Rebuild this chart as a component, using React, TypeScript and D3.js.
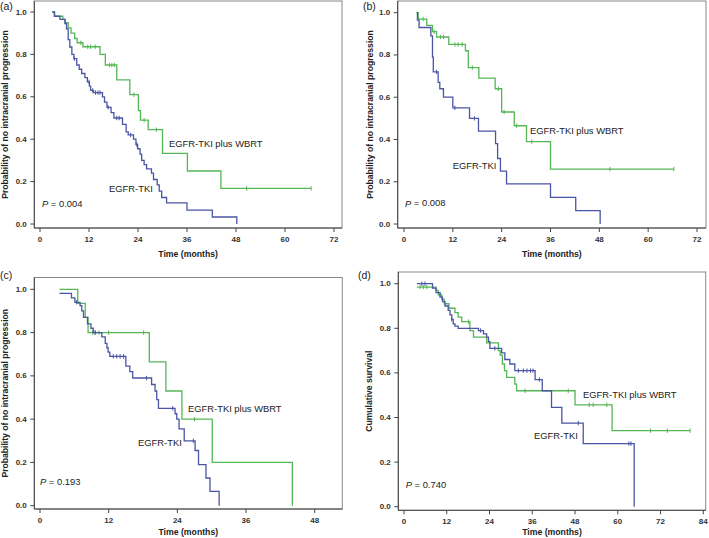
import React from 'react';
import * as d3 from 'd3';

const GREEN = '#55b655';
const BLUE = '#4a55a4';

// ---------- Panel (a) ----------
const aTkiTime = [3.0, 3.5, 4.9, 6.1, 6.5, 6.9, 7.3, 7.8, 8.3, 9.0, 9.6, 10.2, 11.0, 11.6, 12.1, 12.4, 13.1, 15.3, 15.8, 16.4, 17.4, 18.1, 20.2, 21.1, 21.6, 22.9, 23.5, 23.9, 24.5, 24.9, 25.5, 26.1, 27.3, 27.8, 28.7, 29.2, 29.8, 31.0, 36.0, 42.2, 48.2];
const aTkiSurv = [1.0, 0.98, 0.965, 0.945, 0.92, 0.87, 0.835, 0.80, 0.78, 0.75, 0.73, 0.71, 0.69, 0.67, 0.65, 0.63, 0.62, 0.60, 0.575, 0.55, 0.525, 0.50, 0.47, 0.435, 0.42, 0.40, 0.375, 0.355, 0.33, 0.30, 0.28, 0.26, 0.24, 0.21, 0.185, 0.155, 0.125, 0.10, 0.065, 0.033, 0.0];
const aTkiCens = [8.4, 12.0, 12.9, 13.6, 14.2, 14.7, 16.7, 18.8, 19.4, 22.2, 23.7];
const aWbrtTime = [3.0, 3.6, 5.6, 6.2, 6.9, 7.6, 8.5, 9.1, 10.5, 14.7, 16.0, 18.8, 22.0, 24.1, 24.6, 26.5, 30.0, 36.1, 44.3, 66.4];
const aWbrtSurv = [1.0, 0.98, 0.965, 0.95, 0.925, 0.90, 0.875, 0.855, 0.836, 0.80, 0.75, 0.68, 0.61, 0.535, 0.49, 0.445, 0.333, 0.25, 0.168, 0.168];
const aWbrtCens = [10.0, 11.7, 12.4, 13.5, 17.0, 17.6, 18.2, 23.0, 25.5, 28.5, 50.6, 66.4];

// ---------- Panel (b) ----------
const bTkiTime = [3.1, 3.3, 3.7, 6.6, 7.0, 7.2, 8.4, 8.8, 9.7, 12.0, 16.1, 18.3, 22.5, 23.0, 23.7, 25.2, 36.0, 42.2, 48.2];
const bTkiSurv = [1.0, 0.965, 0.93, 0.89, 0.79, 0.72, 0.67, 0.64, 0.60, 0.55, 0.50, 0.44, 0.38, 0.31, 0.25, 0.19, 0.126, 0.063, 0.0];
const bTkiCens = [8.0, 12.5, 17.3];
const bWbrtTime = [3.1, 3.5, 5.6, 7.0, 8.0, 11.0, 15.1, 15.8, 18.4, 22.4, 24.0, 27.1, 30.1, 36.0, 66.3];
const bWbrtSurv = [1.0, 0.97, 0.94, 0.91, 0.885, 0.85, 0.82, 0.74, 0.69, 0.64, 0.53, 0.465, 0.39, 0.26, 0.26];
const bWbrtCens = [4.7, 7.4, 9.0, 9.7, 12.5, 13.3, 14.3, 16.8, 23.2, 24.6, 27.7, 31.4, 50.6, 66.3];

// ---------- Panel (c) ----------
const cTkiTime = [3.4, 5.5, 6.1, 7.0, 7.3, 7.6, 8.3, 8.9, 9.3, 10.8, 11.4, 11.7, 11.9, 12.2, 15.0, 15.7, 16.2, 19.5, 20.1, 20.4, 20.7, 23.6, 23.9, 24.3, 25.2, 27.1, 27.7, 29.0, 29.7, 31.3];
const cTkiSurv = [0.981, 0.96, 0.94, 0.925, 0.90, 0.87, 0.84, 0.82, 0.80, 0.78, 0.75, 0.73, 0.71, 0.69, 0.645, 0.62, 0.59, 0.56, 0.53, 0.49, 0.45, 0.425, 0.40, 0.355, 0.30, 0.255, 0.19, 0.128, 0.066, 0.0];
const cTkiCens = [6.4, 9.6, 12.8, 13.4, 14.0, 14.6, 18.6, 23.2, 26.8];
const cWbrtTime = [3.4, 6.6, 7.9, 8.4, 19.1, 22.0, 24.8, 30.1, 44.1];
const cWbrtSurv = [1.0, 0.935, 0.87, 0.80, 0.665, 0.53, 0.40, 0.20, 0.0];
const cWbrtCens = [9.2, 9.7, 10.3, 12.0, 18.1, 27.0];

// ---------- Panel (d) ----------
const dTkiTime = [3.6, 8.0, 9.0, 10.1, 10.8, 11.5, 12.4, 12.9, 13.4, 13.8, 14.3, 15.2, 20.9, 22.3, 23.2, 23.7, 24.1, 27.4, 28.3, 29.7, 31.1, 36.8, 38.8, 41.4, 44.3, 50.3, 64.6];
const dTkiSurv = [1.0, 0.98, 0.96, 0.94, 0.92, 0.90, 0.88, 0.86, 0.84, 0.82, 0.81, 0.80, 0.79, 0.775, 0.76, 0.74, 0.71, 0.69, 0.66, 0.64, 0.61, 0.57, 0.52, 0.445, 0.375, 0.283, 0.0];
const dTkiCens = [5.0, 5.9, 13.4, 21.5, 25.5, 32.1, 33.5, 34.5, 35.5, 36.2, 38.0, 48.9, 63.1, 63.7];
const dWbrtTime = [3.6, 9.0, 9.6, 10.6, 11.3, 12.6, 14.3, 15.2, 16.2, 18.5, 19.5, 23.2, 26.5, 27.0, 27.6, 28.2, 28.8, 31.1, 31.6, 48.0, 58.4, 80.3];
const dWbrtSurv = [0.985, 0.97, 0.95, 0.93, 0.91, 0.89, 0.87, 0.85, 0.83, 0.79, 0.76, 0.735, 0.70, 0.68, 0.64, 0.61, 0.58, 0.55, 0.52, 0.457, 0.341, 0.341];
const dWbrtCens = [4.5, 5.4, 6.4, 10.2, 18.1, 34.0, 46.1, 52.0, 53.1, 56.9, 69.2, 73.9, 80.3];

const yTicks = [0, 0.2, 0.4, 0.6, 0.8, 1.0];
const xTicks72 = [0, 12, 24, 36, 48, 60, 72];
const xTicks48 = [0, 12, 24, 36, 48];
const xTicks84 = [0, 12, 24, 36, 48, 60, 72, 84];

const labelPlus = 'EGFR-TKI plus WBRT';
const labelTki = 'EGFR-TKI';
const yLabelProg = 'Probability of no intracranial progression';
const yLabelSurv = 'Cumulative survival';
const xLabel = 'Time (months)';

type Curve = { time: number[]; surv: number[]; cens: number[]; color: string };

function stepValue(time: number[], surv: number[], t: number) {
  let v = surv[0];
  for (let i = 0; i < time.length; i++) if (time[i] <= t) v = surv[i];
  return v;
}

type PanelProps = {
  tag: string;
  tagX: number;
  tagY: number;
  frame: { l: number; r: number; t: number; b: number };
  xMax: number;
  xRange: [number, number];
  yRange: [number, number];
  xTicks: number[];
  yLabel: string;
  yLabelX: number;
  xLabelOffset: number;
  curves: Curve[];
  plusPos: [number, number];
  tkiPos: [number, number];
  pPos: [number, number];
  pValue: string;
};

const SANS = 'Liberation Sans, Arial, sans-serif';
const NARROW = 'Liberation Sans Narrow, Arial Narrow, Liberation Sans, Arial, sans-serif';

function Panel(p: PanelProps) {
  const x = d3.scaleLinear().domain([0, p.xMax]).range(p.xRange);
  const y = d3.scaleLinear().domain([0, 1]).range(p.yRange);
  const line = d3
    .line<[number, number]>()
    .x((d) => x(d[0]))
    .y((d) => y(d[1]))
    .curve(d3.curveStepAfter);
  const { l, r, t, b } = p.frame;
  const cx = (l + r) / 2;
  const cy = (t + b) / 2;
  return (
    <g>
      <text x={p.tagX} y={p.tagY} fontFamily={SANS} fontSize={10.5} dominantBaseline="central" fill="#222">
        {p.tag}
      </text>
      <rect x={l} y={t} width={r - l} height={b - t} fill="#fff" stroke="#888" strokeWidth={1} />
      <line x1={l} x2={l} y1={t} y2={b} stroke="#444" strokeWidth={1} />
      <line x1={l} x2={r} y1={b} y2={b} stroke="#444" strokeWidth={1} />
      {yTicks.map((v) => (
        <g key={'y' + v}>
          <line x1={l - 4} x2={l} y1={y(v)} y2={y(v)} stroke="#444" />
          <text
            x={l - 7.5}
            y={y(v)}
            textAnchor="end"
            dominantBaseline="central"
            fontFamily={NARROW}
            fontWeight="bold"
            fontSize={8}
            fill="#333"
          >
            {d3.format('.1f')(v)}
          </text>
        </g>
      ))}
      {p.xTicks.map((v) => (
        <g key={'x' + v}>
          <line x1={x(v)} x2={x(v)} y1={b} y2={b + 4} stroke="#444" />
          <text
            x={x(v)}
            y={b + 11.5}
            textAnchor="middle"
            dominantBaseline="central"
            fontFamily={NARROW}
            fontWeight="bold"
            fontSize={8}
            fill="#333"
          >
            {v}
          </text>
        </g>
      ))}
      <text
        x={cx}
        y={b + p.xLabelOffset}
        textAnchor="middle"
        dominantBaseline="central"
        fontFamily={SANS}
        fontWeight="bold"
        fontSize={8.7}
        fill="#222"
      >
        {xLabel}
      </text>
      <text
        transform={`translate(${p.yLabelX},${cy}) rotate(-90)`}
        textAnchor="middle"
        dominantBaseline="central"
        fontFamily={SANS}
        fontWeight="bold"
        fontSize={8.6}
        fill="#222"
      >
        {p.yLabel}
      </text>
      {p.curves.map((c, i) => {
        const pts: [number, number][] = c.time.map((tt, j) => [tt, c.surv[j]]);
        return (
          <g key={'c' + i}>
            <path d={line(pts) || ''} fill="none" stroke={c.color} strokeWidth={1.3} />
            {c.cens.map((ct, j) => {
              const v = stepValue(c.time, c.surv, ct);
              return (
                <line
                  key={j}
                  x1={x(ct)}
                  x2={x(ct)}
                  y1={y(v) - 2.2}
                  y2={y(v) + 2.2}
                  stroke={c.color}
                  strokeWidth={1}
                />
              );
            })}
          </g>
        );
      })}
      <text x={p.plusPos[0]} y={p.plusPos[1]} dominantBaseline="central" fontFamily={SANS} fontSize={9.4} fill="#222">
        {labelPlus}
      </text>
      <text x={p.tkiPos[0]} y={p.tkiPos[1]} dominantBaseline="central" fontFamily={SANS} fontSize={9.4} fill="#222">
        {labelTki}
      </text>
      <text x={p.pPos[0]} y={p.pPos[1]} dominantBaseline="central" fontFamily={SANS} fontSize={9.4} fill="#222">
        <tspan fontStyle="italic">P</tspan>
        {' = ' + p.pValue}
      </text>
    </g>
  );
}

export default function App() {
  return (
    <svg
      width={709}
      height={538}
      style={{ position: 'absolute', left: 0, top: 0, background: '#fff' }}
    >
      <rect x={0} y={0} width={709} height={538} fill="#fff" />
      <Panel
        tag="(a)"
        tagX={0}
        tagY={5.5}
        frame={{ l: 34.3, r: 342, t: 1, b: 228 }}
        xMax={72}
        xRange={[40, 334]}
        yRange={[224, 12]}
        xTicks={xTicks72}
        yLabel={yLabelProg}
        yLabelX={5}
        xLabelOffset={26}
        curves={[
          { time: aWbrtTime, surv: aWbrtSurv, cens: aWbrtCens, color: GREEN },
          { time: aTkiTime, surv: aTkiSurv, cens: aTkiCens, color: BLUE },
        ]}
        plusPos={[169, 143]}
        tkiPos={[109, 188]}
        pPos={[42, 203]}
        pValue="0.004"
      />
      <Panel
        tag="(b)"
        tagX={363}
        tagY={6}
        frame={{ l: 397.7, r: 706, t: 1, b: 228 }}
        xMax={72}
        xRange={[404, 697]}
        yRange={[224, 12.7]}
        xTicks={xTicks72}
        yLabel={yLabelProg}
        yLabelX={369.5}
        xLabelOffset={26}
        curves={[
          { time: bWbrtTime, surv: bWbrtSurv, cens: bWbrtCens, color: GREEN },
          { time: bTkiTime, surv: bTkiSurv, cens: bTkiCens, color: BLUE },
        ]}
        plusPos={[530, 130.7]}
        tkiPos={[452.7, 165.7]}
        pPos={[405, 202.7]}
        pValue="0.008"
      />
      <Panel
        tag="(c)"
        tagX={0}
        tagY={274.7}
        frame={{ l: 34.3, r: 342.3, t: 277.5, b: 509 }}
        xMax={48}
        xRange={[40, 314.7]}
        yRange={[505.7, 289.3]}
        xTicks={xTicks48}
        yLabel={yLabelProg}
        yLabelX={5}
        xLabelOffset={22.5}
        curves={[
          { time: cWbrtTime, surv: cWbrtSurv, cens: cWbrtCens, color: GREEN },
          { time: cTkiTime, surv: cTkiSurv, cens: cTkiCens, color: BLUE },
        ]}
        plusPos={[188, 408.7]}
        tkiPos={[138, 442]}
        pPos={[40, 481]}
        pValue="0.193"
      />
      <Panel
        tag="(d)"
        tagX={358}
        tagY={275}
        frame={{ l: 398.3, r: 705.7, t: 272, b: 510.3 }}
        xMax={84}
        xRange={[404, 703.3]}
        yRange={[506.7, 283.7]}
        xTicks={xTicks84}
        yLabel={yLabelSurv}
        yLabelX={369}
        xLabelOffset={21.5}
        curves={[
          { time: dWbrtTime, surv: dWbrtSurv, cens: dWbrtCens, color: GREEN },
          { time: dTkiTime, surv: dTkiSurv, cens: dTkiCens, color: BLUE },
        ]}
        plusPos={[583, 394.7]}
        tkiPos={[534, 435.7]}
        pPos={[405.7, 484]}
        pValue="0.740"
      />
    </svg>
  );
}
